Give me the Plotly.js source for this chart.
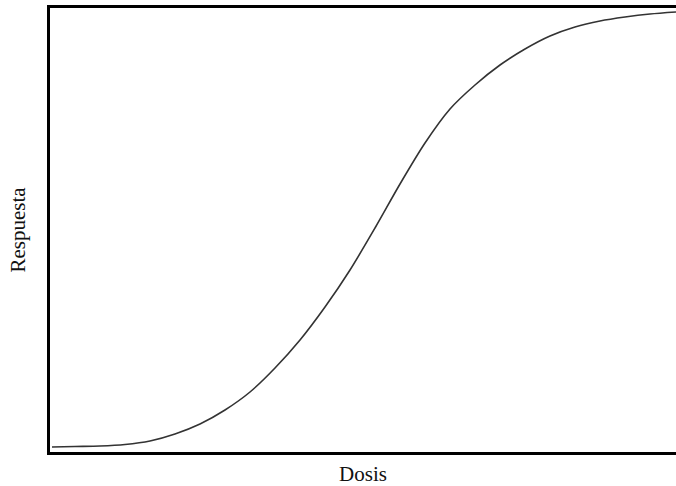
<!DOCTYPE html>
<html>
<head>
<meta charset="utf-8">
<script src="https://cdn.plot.ly/plotly-3.0.1.min.js"></script>
<style>html,body{margin:0;padding:0;background:#fff;}#chart{width:676px;height:486px;}</style>
</head>
<body>
<div id="chart"></div>
<script>
const dosis = [2, 25, 50, 75, 100, 125, 150, 175, 200, 225, 250, 275, 300, 325, 350, 375, 400, 425, 450, 475, 500, 525, 550, 575, 600, 626];
const respuesta = [5, 5.5, 6, 7.5, 11, 18, 28, 42, 60, 84, 112, 145, 182, 224, 268, 309, 343, 367, 387, 403, 416, 425, 431, 435, 438, 440];
const xTitle = "Dosis";
const yTitle = "Respuesta";

Plotly.newPlot("chart", [{
  x: dosis, y: respuesta, type: "scatter", mode: "lines",
  line: {color: "#333333", width: 1.6, shape: "spline", smoothing: 0.8},
  hoverinfo: "skip"
}], {
  width: 676, height: 486,
  margin: {l: 50, r: 0, t: 8, b: 34},
  paper_bgcolor: "#ffffff", plot_bgcolor: "#ffffff",
  showlegend: false,
  font: {family: "Liberation Serif, DejaVu Serif, serif", color: "#111111", size: 21},
  xaxis: {range: [0, 626], showgrid: false, zeroline: false, showticklabels: false, ticks: "",
    showline: true, linecolor: "#000000", linewidth: 3, mirror: true,
    title: {text: xTitle, standoff: 13, font: {size: 21}}},
  yaxis: {range: [0, 444], showgrid: false, zeroline: false, showticklabels: false, ticks: "",
    showline: true, linecolor: "#000000", linewidth: 3, mirror: false,
    title: {text: yTitle, standoff: 16, font: {size: 21}}}
}, {displayModeBar: false, staticPlot: true});
</script>
</body>
</html>
